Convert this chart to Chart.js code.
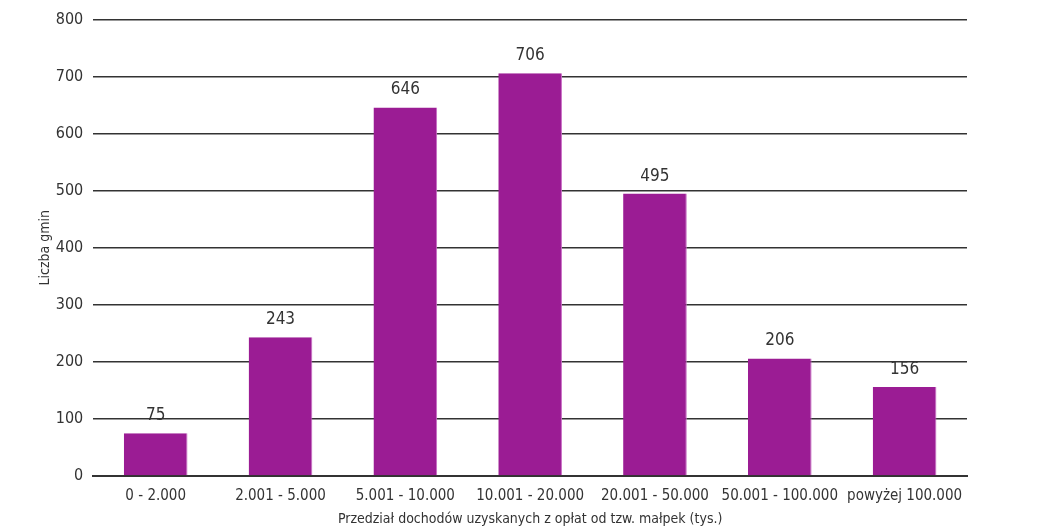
<!DOCTYPE html>
<html>
<head>
<meta charset="utf-8">
<script src="https://cdn.jsdelivr.net/npm/chart.js@4/dist/chart.umd.min.js"></script>
<style>
  html, body { margin: 0; padding: 0; background: #fff; }
  #wrap { width: 1043px; height: 528px; }
</style>
</head>
<body>
<div id="wrap"><canvas id="wykres" width="1043" height="528"></canvas></div>
<script>
const kategorie = ['0 - 2.000', '2.001 - 5.000', '5.001 - 10.000', '10.001 - 20.000', '20.001 - 50.000', '50.001 - 100.000', 'powyżej 100.000'];
const liczbaGmin = [75, 243, 646, 706, 495, 206, 156];

const FONT = '"Liberation Sans Narrow", "DejaVu Sans Condensed", sans-serif';

// etykiety wartości nad słupkami
const etykiety = {
  id: 'etykiety',
  afterDatasetsDraw(chart) {
    const ctx = chart.ctx;
    const meta = chart.getDatasetMeta(0);
    ctx.save();
    ctx.font = '17px ' + FONT;
    ctx.fillStyle = '#333';
    ctx.textAlign = 'center';
    ctx.textBaseline = 'bottom';
    meta.data.forEach((bar, i) => {
      ctx.fillText(liczbaGmin[i], bar.x, bar.y - 9);
    });
    ctx.restore();
  }
};

new Chart(document.getElementById('wykres'), {
  type: 'bar',
  data: {
    labels: kategorie,
    datasets: [{
      data: liczbaGmin,
      backgroundColor: '#9b1c94',
      borderColor: '#c86bc4',
      borderWidth: { right: 1 },
      borderSkipped: false,
      barPercentage: 0.51,
      categoryPercentage: 1
    }]
  },
  options: {
    responsive: false,
    animation: false,
    layout: { padding: { left: 37, right: 76, top: 13, bottom: 2 } },
    plugins: {
      legend: { display: false },
      tooltip: { enabled: false }
    },
    scales: {
      x: {
        grid: { display: false },
        border: { color: '#333', width: 2 },
        ticks: { color: '#333', font: { family: FONT, size: 15 }, padding: 3, maxRotation: 0 },
        title: { display: true, text: 'Przedział dochodów uzyskanych z opłat od tzw. małpek (tys.)', color: '#333', font: { family: FONT, size: 14, lineHeight: 1 }, padding: { top: 4, bottom: 0 } }
      },
      y: {
        min: 0,
        max: 800,
        ticks: { stepSize: 100, color: '#333', font: { family: FONT, size: 16 }, padding: 10 },
        grid: { color: '#333', lineWidth: 1.5, drawTicks: false },
        border: { display: false },
        title: { display: true, text: 'Liczba gmin', color: '#333', font: { family: FONT, size: 14 }, padding: { top: 0, bottom: -8 } }
      }
    }
  },
  plugins: [etykiety]
});
</script>
</body>
</html>
